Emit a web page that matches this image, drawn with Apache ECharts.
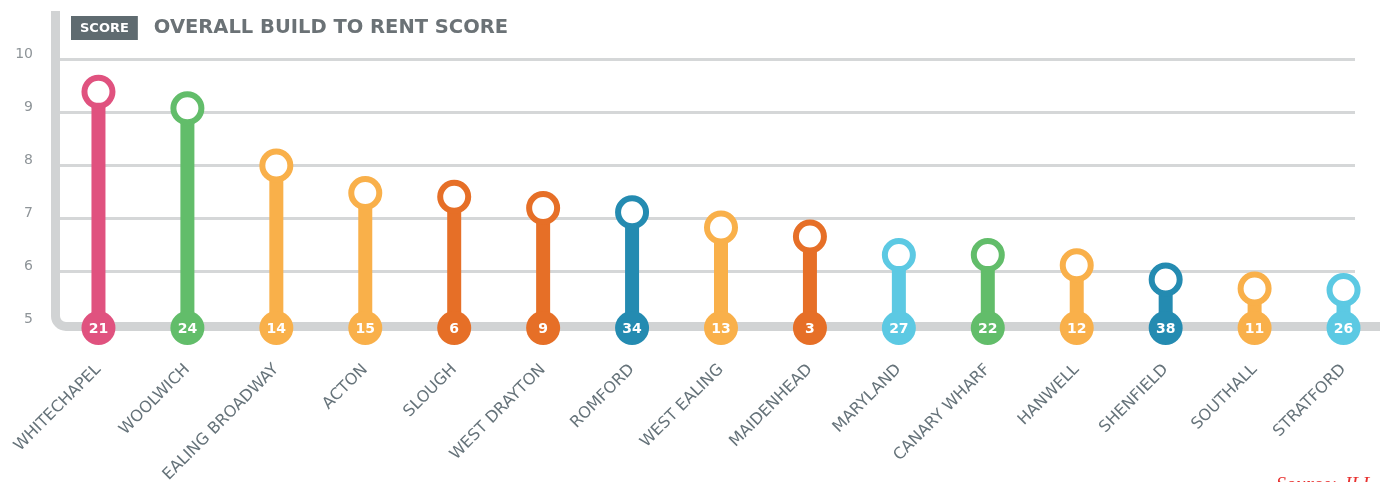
<!DOCTYPE html>
<html>
<head>
<meta charset="utf-8">
<title>Overall build to rent score</title>
<script src="https://cdn.jsdelivr.net/npm/echarts@6/dist/echarts.min.js"></script>
<style>
  html, body { margin: 0; padding: 0; background: #fff; }
  #chart { width: 1395px; height: 482px; }
</style>
</head>
<body>
<div id="chart"></div>
<script>
// data
var locations = ['WHITECHAPEL', 'WOOLWICH', 'EALING BROADWAY', 'ACTON', 'SLOUGH', 'WEST DRAYTON', 'ROMFORD',
  'WEST EALING', 'MAIDENHEAD', 'MARYLAND', 'CANARY WHARF', 'HANWELL', 'SHENFIELD', 'SOUTHALL', 'STRATFORD'];
var scores = [9.38, 9.07, 7.99, 7.47, 7.40, 7.19, 7.11, 6.82, 6.65, 6.30, 6.30, 6.11, 5.84, 5.67, 5.64];
var ranks = [21, 24, 14, 15, 6, 9, 34, 13, 3, 27, 22, 12, 38, 11, 26];
var yTicks = [5, 6, 7, 8, 9, 10];

// colour for each stop (style only)
var pink = '#e0527f', green = '#62bd6a', amber = '#f9b04a', orange = '#e66f27', teal = '#248bb1', sky = '#5cc9e3';
var colors = [pink, green, amber, amber, orange, orange, teal, amber, orange, sky, green, amber, teal, amber, sky];

var chart = echarts.init(document.getElementById('chart'));

var yMin = yTicks[0], yMax = yTicks[yTicks.length - 1];

var stems = [], rings = [], bases = [];
for (var i = 0; i < locations.length; i++) {
  stems.push({ value: scores[i], itemStyle: { color: colors[i] } });
  rings.push({ value: scores[i], itemStyle: { color: '#fff', borderColor: colors[i] } });
  bases.push({ value: yMin, rank: ranks[i], itemStyle: { color: colors[i] } });
}

var frame = { stroke: '#d1d3d4', lineWidth: 9 };

var option = {
  animation: false,
  title: {
    left: 66,
    top: 11,
    text: '{box|SCORE}{gap|}{main|OVERALL BUILD TO RENT SCORE}',
    textStyle: {
      rich: {
        box: {
          backgroundColor: '#5f6b70',
          color: '#fff',
          fontFamily: 'DejaVu Sans',
          fontWeight: 'bold',
          fontSize: 13,
          padding: [6, 9, 5, 9]
        },
        gap: { width: 16 },
        main: {
          color: '#6b7276',
          fontFamily: 'DejaVu Sans',
          fontWeight: 'bold',
          fontSize: 19.5
        }
      }
    }
  },
  grid: [
    { left: 54, right: 7, top: 59, bottom: 158, outerBoundsMode: 'none' },
    { left: 60, right: 40, top: 59, bottom: 158, outerBoundsMode: 'none' }
  ],
  xAxis: [
    {
      type: 'category',
      gridIndex: 0,
      data: locations,
      axisLine: { show: false },
      axisTick: { show: false },
      axisLabel: {
        rotate: 45,
        margin: 43,
        interval: 0,
        color: '#66737a',
        fontFamily: 'DejaVu Sans',
        fontSize: 16
      }
    },
    { type: 'category', gridIndex: 1, data: locations, show: false }
  ],
  yAxis: [
    { type: 'value', gridIndex: 0, min: yMin, max: yMax, interval: 1, show: false },
    {
      type: 'value',
      gridIndex: 1,
      min: yMin,
      max: yMax,
      interval: 1,
      axisLine: { show: false },
      axisTick: { show: false },
      axisLabel: {
        margin: 27,
        color: '#8e9498',
        fontFamily: 'DejaVu Sans',
        fontSize: 14,
        verticalAlign: 'bottom',
        lineHeight: 10
      },
      splitLine: { lineStyle: { color: '#d5d7d8', width: 3 } }
    }
  ],
  graphic: [
    // axis frame: left bar bending into the thick base line
    { type: 'line', z: 1, shape: { x1: 55.5, y1: 11, x2: 55.5, y2: 316 }, style: frame },
    {
      type: 'arc', z: 1,
      shape: { cx: 66, cy: 316, r: 10.5, startAngle: Math.PI / 2, endAngle: Math.PI, clockwise: true },
      style: { stroke: frame.stroke, lineWidth: frame.lineWidth, fill: null }
    },
    { type: 'line', z: 1, shape: { x1: 66, y1: 326.5, x2: 1380, y2: 326.5 }, style: frame },
    {
      type: 'text',
      z: 1,
      left: 1276,
      top: 476,
      style: {
        text: 'Source: JLL',
        fill: '#e8312f',
        font: 'italic 20px "Liberation Serif"'
      }
    }
  ],
  series: [
    {
      name: 'stem',
      type: 'bar',
      xAxisIndex: 0,
      yAxisIndex: 0,
      barWidth: 14,
      data: stems,
      z: 3
    },
    {
      name: 'score',
      type: 'scatter',
      xAxisIndex: 0,
      yAxisIndex: 0,
      symbol: 'circle',
      symbolSize: 28,
      itemStyle: { borderWidth: 6, opacity: 1 },
      data: rings,
      z: 4
    },
    {
      name: 'rank',
      type: 'scatter',
      xAxisIndex: 0,
      yAxisIndex: 0,
      symbol: 'circle',
      symbolSize: 34,
      symbolOffset: [0, 4],
      itemStyle: { opacity: 1 },
      data: bases,
      label: {
        show: true,
        position: 'inside',
        offset: [0, 1],
        formatter: function (p) { return p.data.rank; },
        color: '#fff',
        fontFamily: 'DejaVu Sans',
        fontWeight: 'bold',
        fontSize: 14
      },
      z: 5
    }
  ]
};

chart.setOption(option);
</script>
</body>
</html>
